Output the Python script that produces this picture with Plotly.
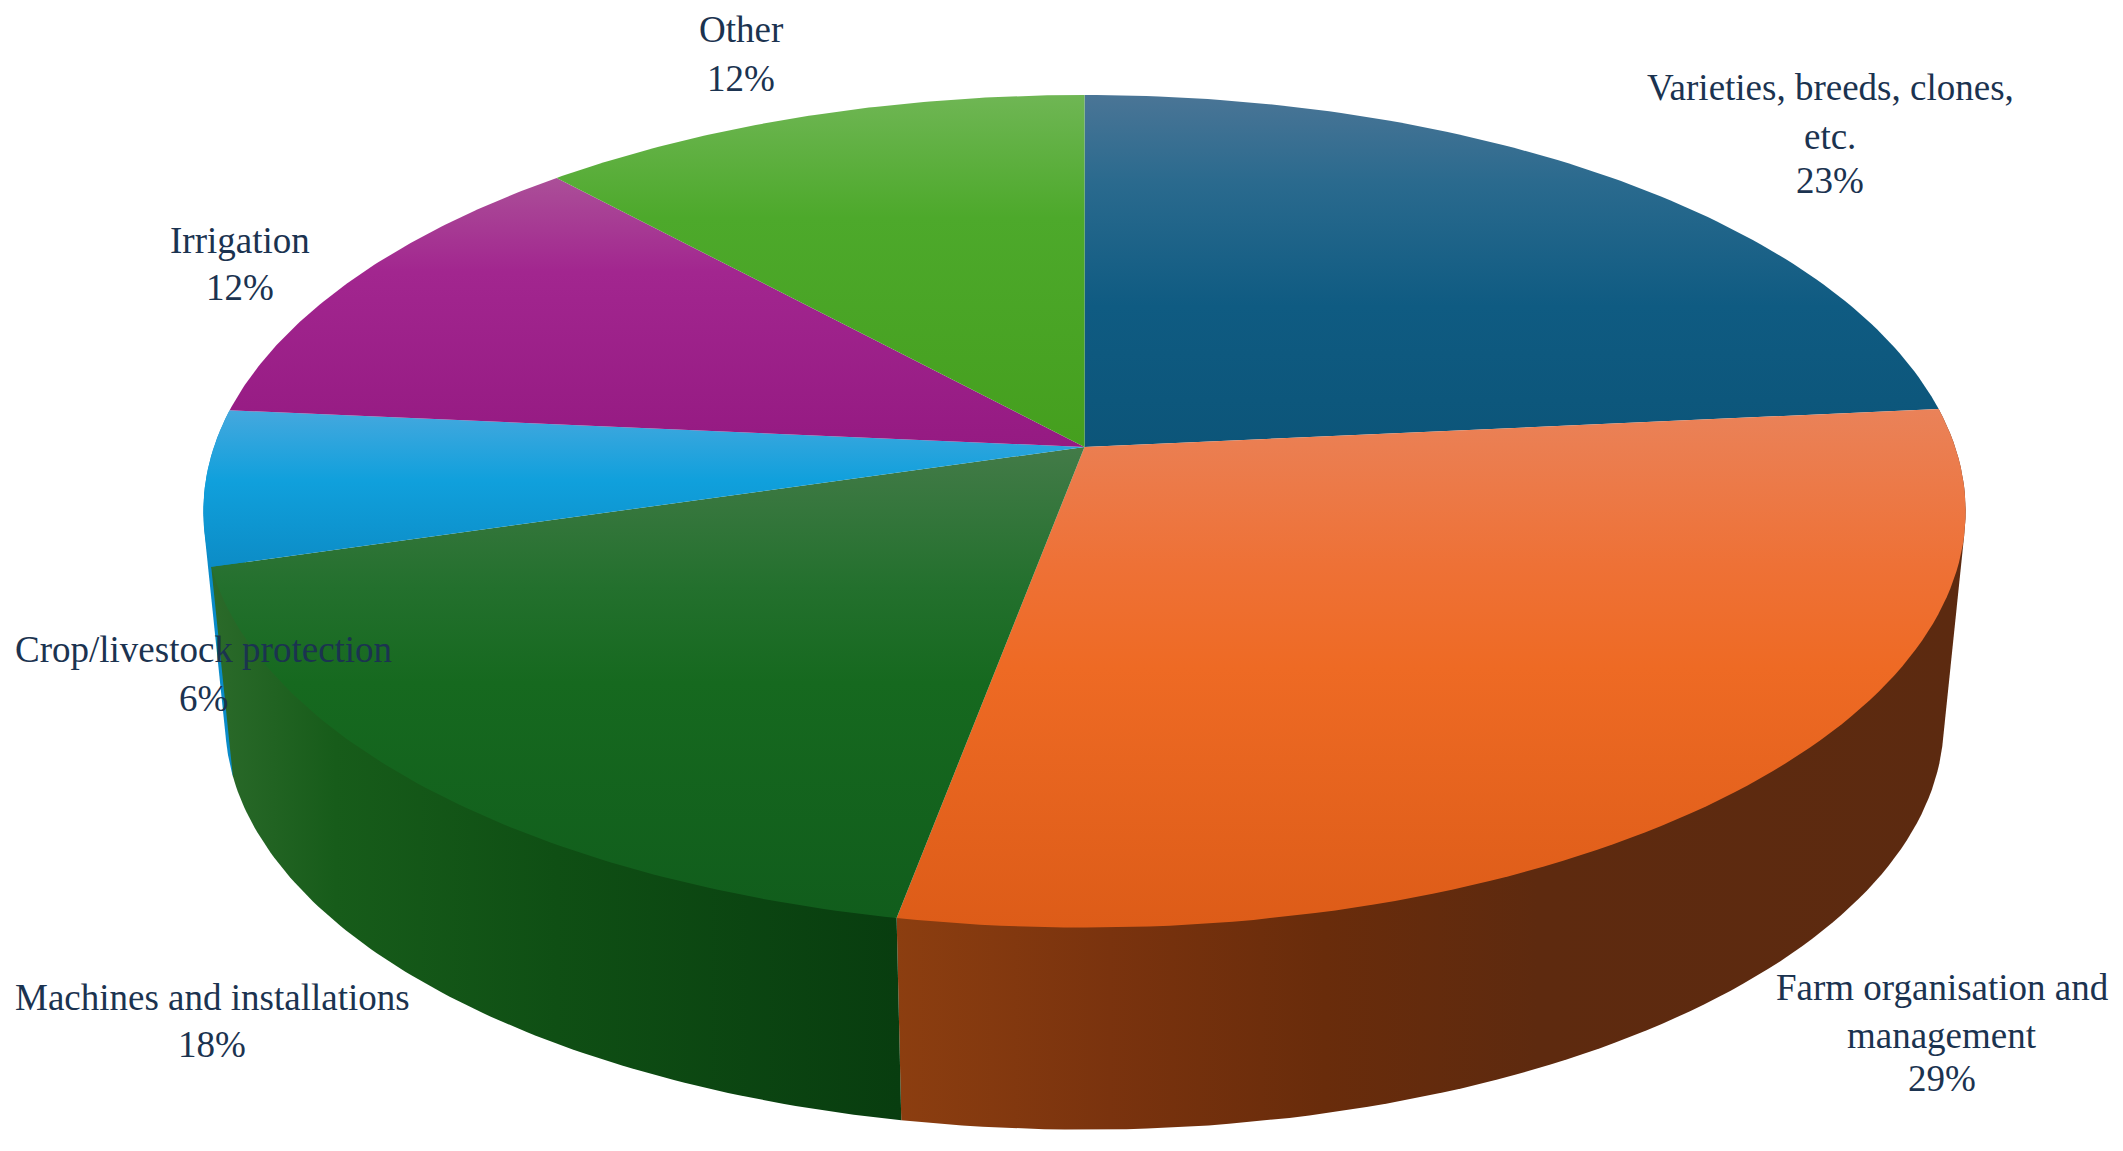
import math
import plotly.graph_objects as go

# ---- data ----
categories = ["Varieties, breeds, clones, etc.", "Farm organisation and management",
              "Machines and installations", "Crop/livestock protection", "Irrigation", "Other"]
percent_labels = [23, 29, 18, 6, 12, 12]
# slice shares as measured on the drawn pie (they round to the printed labels)
shares = [23.49, 29.44, 17.52, 6.01, 11.74, 11.8]

label_lines = [["Varieties, breeds, clones,", "etc."], ["Farm organisation and", "management"],
               ["Machines and installations"], ["Crop/livestock protection"], ["Irrigation"], ["Other"]]

# ---- styling ----
top_colors = [
    [(0, "#4a7596"), (0.25, "#2a6a8e"), (0.6, "#0f5b82"), (1, "#0c5579")],
    [(0, "#ea8259"), (0.3, "#ee7136"), (0.5, "#ee6a24"), (1, "#dd5c18")],
    [(0, "#437b48"), (0.3, "#23702d"), (0.5, "#16691f"), (1, "#115d1c")],
    [(0, "#45a8de"), (0.45, "#10a0dc"), (1, "#0c8cc6")],
    [(0, "#ab4f98"), (0.35, "#a2268f"), (1, "#951a82")],
    [(0, "#6fb654"), (0.35, "#4da92b"), (1, "#459f1e")],
]
wall_colors = [
    None,
    [(0, "#8c3e10"), (0.2, "#7a330e"), (0.4, "#692c0b"), (0.6, "#5e2a0f"), (1, "#5c2a10")],
    [(0, "#2b6a2a"), (0.18, "#175c1a"), (0.5, "#0f4f14"), (1, "#083d0f")],
    [(0, "#0a8bc8"), (1, "#0a8bc8")],
    None,
    None,
]
TEXT = "#1b3350"
FONT = "Liberation Serif"
FS = 37

# perspective disc parameters (px)
CX = 1084.5
TOP = dict(a=870.6, b=406.4, cy=447.0)
BOT = dict(a=849.0, b=398.0, cy=659.0)
K = 0.1544


def project(theta, d):
    X, Y = math.sin(theta), math.cos(theta)
    den = 1 + K * Y
    return CX + d["a"] * X / den, d["cy"] - d["b"] * Y / den


def arc(t0, t1, d, n=90):
    return [project(t0 + (t1 - t0) * i / n, d) for i in range(n + 1)]


def hull(pts):
    pts = sorted(set(pts))

    def cross(o, p, q):
        return (p[0] - o[0]) * (q[1] - o[1]) - (p[1] - o[1]) * (q[0] - o[0])

    lo, up = [], []
    for p in pts:
        while len(lo) > 1 and cross(lo[-2], lo[-1], p) <= 0:
            lo.pop()
        lo.append(p)
    for p in reversed(pts):
        while len(up) > 1 and cross(up[-2], up[-1], p) <= 0:
            up.pop()
        up.append(p)
    return lo[:-1] + up[:-1]


total = sum(shares)
bounds = [0.0]
for s in shares:
    bounds.append(bounds[-1] + s / total * 2 * math.pi)


def poly_trace(pts, scale, orient):
    xs = [p[0] for p in pts] + [pts[0][0]]
    ys = [p[1] for p in pts] + [pts[0][1]]
    return go.Scatter(x=xs, y=ys, mode="lines", line=dict(width=0), fill="toself", hoverinfo="skip",
                      fillgradient=dict(type=orient, colorscale=scale,
                                        start=min(xs) if orient == "horizontal" else min(ys),
                                        stop=max(xs) if orient == "horizontal" else max(ys)),
                      showlegend=False)


fig = go.Figure()
# walls, back to front
for i in (3, 1, 2):
    pts = arc(bounds[i], bounds[i + 1], TOP) + arc(bounds[i], bounds[i + 1], BOT)
    fig.add_trace(poly_trace(hull(pts), wall_colors[i], "horizontal"))
# top faces
for i in range(len(shares)):
    pts = [project(0, dict(a=0, b=0, cy=TOP["cy"]))] + arc(bounds[i], bounds[i + 1], TOP)
    fig.add_trace(poly_trace(pts, top_colors[i], "vertical"))

# label anchors: centre x and the y of each text line
anchors = [
    (1830, [87, 136, 180]),
    (1942, [987, 1035, 1078]),
    (212, [997, 1044]),
    (203, [649, 698]),
    (240, [240, 287]),
    (741, [29, 78]),
]
for lines, pct, (ax, ys) in zip(label_lines, percent_labels, anchors):
    for txt, y in zip(lines + [f"{pct}%"], ys):
        fig.add_annotation(x=ax, y=y, text=txt, showarrow=False, xanchor="center", yanchor="middle",
                           font=dict(family=FONT, size=FS, color=TEXT))

fig.update_layout(width=2123, height=1151, margin=dict(l=0, r=0, t=0, b=0),
                  paper_bgcolor="white", plot_bgcolor="white", showlegend=False,
                  xaxis=dict(range=[0, 2123], visible=False, fixedrange=True),
                  yaxis=dict(range=[1151, 0], visible=False, fixedrange=True))
fig.write_html("out.html", config={"displayModeBar": False},
               post_script="document.body.style.margin='0';document.body.style.overflow='hidden';")
